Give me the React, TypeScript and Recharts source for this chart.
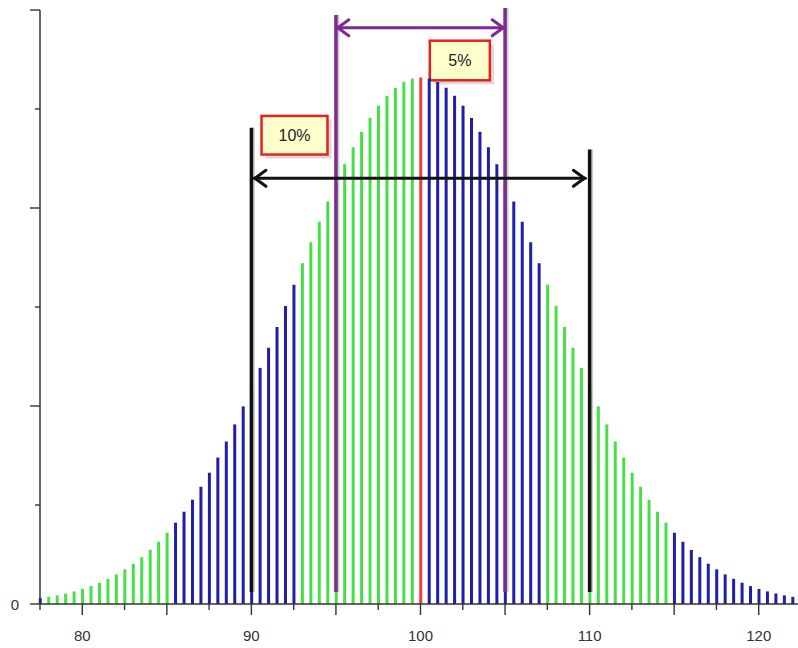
import { ComposedChart, Bar, Cell, XAxis, YAxis, ReferenceLine, ReferenceArea } from 'recharts'

// x positions of the stick bars (step 0.5)
const xValues = [
  77.5, 78, 78.5, 79, 79.5, 80, 80.5, 81, 81.5, 82, 82.5, 83, 83.5, 84, 84.5, 85,
  85.5, 86, 86.5, 87, 87.5, 88, 88.5, 89, 89.5, 90, 90.5, 91, 91.5, 92, 92.5,
  93, 93.5, 94, 94.5, 95, 95.5, 96, 96.5, 97, 97.5, 98, 98.5, 99, 99.5, 100,
  100.5, 101, 101.5, 102, 102.5, 103, 103.5, 104, 104.5, 105, 105.5, 106, 106.5, 107,
  107.5, 108, 108.5, 109, 109.5, 110, 110.5, 111, 111.5, 112, 112.5, 113, 113.5, 114, 114.5,
  115, 115.5, 116, 116.5, 117, 117.5, 118, 118.5, 119, 119.5, 120, 120.5, 121, 121.5, 122, 122.5,
]

// bar heights
const density = [
  0.00059, 0.00072, 0.00087, 0.00106, 0.00127, 0.00152, 0.00181, 0.00215, 0.00254, 0.00299,
  0.0035, 0.00407, 0.00473, 0.00546, 0.00629, 0.0072, 0.00821, 0.00932, 0.01053, 0.01184,
  0.01326, 0.01479, 0.01642, 0.01814, 0.01996, 0.02187, 0.02385, 0.02589, 0.02798, 0.03011,
  0.03226, 0.03441, 0.03654, 0.03862, 0.04065, 0.04259, 0.04443, 0.04614, 0.0477, 0.0491,
  0.05032, 0.05133, 0.05214, 0.05272, 0.05307, 0.05319,
  0.05307, 0.05272, 0.05214, 0.05133, 0.05032, 0.0491, 0.0477, 0.04614, 0.04443, 0.04259,
  0.04065, 0.03862, 0.03654, 0.03441, 0.03226, 0.03011, 0.02798, 0.02589, 0.02385, 0.02187,
  0.01996, 0.01814, 0.01642, 0.01479, 0.01326, 0.01184, 0.01053, 0.00932, 0.00821, 0.0072,
  0.00629, 0.00546, 0.00473, 0.00407, 0.0035, 0.00299, 0.00254, 0.00215, 0.00181, 0.00152,
  0.00127, 0.00106, 0.00087, 0.00072, 0.00059,
]

const GREEN = '#46E046'
const BLUE = '#1E1EA6'
const RED = '#F03C3C'
const PURPLE = '#7E2A90'

const colorBands = [
  { from: 77.5, to: 77.5, color: BLUE },
  { from: 78, to: 85, color: GREEN },
  { from: 85.5, to: 92.5, color: BLUE },
  { from: 93, to: 99.5, color: GREEN },
  { from: 100, to: 100, color: RED },
  { from: 100.5, to: 107, color: BLUE },
  { from: 107.5, to: 114.5, color: GREEN },
  { from: 115, to: 122.5, color: BLUE },
]

const xTicks = [77.5, 80, 82.5, 85, 87.5, 90, 92.5, 95, 97.5, 100, 102.5, 105, 107.5, 110, 112.5, 115, 117.5, 120, 122.5]
const xLabels = [80, 90, 100, 110, 120]
const yTicks = [0, 0.01, 0.02, 0.03, 0.04, 0.05, 0.06]
const yMajor = [0, 0.02, 0.04, 0.06]

const data = xValues.map((x, i) => ({ x, p: density[i] }))

const colorFor = (x: number) => {
  const band = colorBands.find(b => x >= b.from && x <= b.to)
  return band ? band.color : GREEN
}

const FONT = '"Liberation Sans", Arial, sans-serif'

const XTick = (props: any) => {
  const { x, y, payload } = props
  const v = payload.value
  const major = v % 5 === 0
  return (
    <g>
      <line x1={x} x2={x} y1={y} y2={y + (major ? 11 : 6)} stroke="#333" strokeWidth={1.4} />
      {xLabels.includes(v) && (
        <text x={x} y={y + 37} textAnchor="middle" fontSize={15} fill="#333" fontFamily={FONT}>
          {v}
        </text>
      )}
    </g>
  )
}

const YTick = (props: any) => {
  const { x, y, payload } = props
  const v = payload.value
  const major = yMajor.includes(v)
  return (
    <g>
      <line x1={x - (major ? 10 : 5)} x2={x} y1={y} y2={y} stroke="#333" strokeWidth={1.4} />
      {v === 0 && (
        <text x={x - 21} y={y + 6} textAnchor="end" fontSize={15} fill="#333" fontFamily={FONT}>
          0
        </text>
      )}
    </g>
  )
}

const thickLine = (color: string) => (props: any) => {
  const { x1, y1, x2, y2 } = props
  return (
    <g>
      <line x1={x1 + 2} y1={y1} x2={x2 + 2} y2={y2} stroke="#999" strokeOpacity={0.5} strokeWidth={3} />
      <line x1={x1} y1={y1} x2={x2} y2={y2} stroke={color} strokeWidth={3.5} />
    </g>
  )
}

const doubleArrow = (color: string) => (props: any) => {
  const { x1, y1, x2, y2 } = props
  return (
    <g fill="none" stroke={color} strokeWidth={3} strokeLinecap="round" strokeLinejoin="round">
      <line x1={x1} y1={y1} x2={x2} y2={y2} />
      <polyline points={`${x1 + 12},${y1 - 8} ${x1 + 1},${y1} ${x1 + 12},${y1 + 8}`} />
      <polyline points={`${x2 - 12},${y2 - 8} ${x2 - 1},${y2} ${x2 - 12},${y2 + 8}`} />
    </g>
  )
}

const labelBox = (text: string) => (props: any) => {
  const { x, y, width, height } = props
  return (
    <g>
      <rect x={x + 4} y={y + 4} width={width} height={height} fill="#000" fillOpacity={0.15} />
      <rect x={x} y={y} width={width} height={height} fill="#FFFFCC" stroke="#E8201E" strokeWidth={2.5} />
      <text x={x + width / 2} y={y + height / 2 + 6} textAnchor="middle" fontSize={16} fill="#222" fontFamily={FONT}>
        {text}
      </text>
    </g>
  )
}

export default function App() {
  return (
    <div style={{ position: 'absolute', left: 0, top: 0, width: 798, height: 648, overflow: 'hidden', background: '#fff' }}>
      <ComposedChart width={810} height={648} data={data} margin={{ top: 10, right: 9, bottom: 0, left: 0 }}>
        <XAxis
          type="number"
          dataKey="x"
          domain={[77.5, 122.5]}
          ticks={xTicks}
          tick={<XTick />}
          tickLine={false}
          tickSize={0}
          tickMargin={0}
          height={44}
          axisLine={{ stroke: '#333', strokeWidth: 1.5 }}
          interval={0}
        />
        <YAxis
          type="number"
          domain={[0, 0.06]}
          ticks={yTicks}
          tick={<YTick />}
          tickLine={false}
          tickSize={0}
          tickMargin={0}
          width={40}
          axisLine={{ stroke: '#333', strokeWidth: 1.5 }}
          interval={0}
        />
        <Bar dataKey="p" barSize={3} isAnimationActive={false}>
          {data.map((d, i) => (
            <Cell key={i} fill={colorFor(d.x)} />
          ))}
        </Bar>
        <ReferenceLine segment={[{ x: 90, y: 0.0012 }, { x: 90, y: 0.0481 }]} shape={thickLine('#111')} ifOverflow="visible" />
        <ReferenceLine segment={[{ x: 110, y: 0.0012 }, { x: 110, y: 0.0459 }]} shape={thickLine('#111')} ifOverflow="visible" />
        <ReferenceLine segment={[{ x: 95, y: 0.0012 }, { x: 95, y: 0.0595 }]} shape={thickLine(PURPLE)} ifOverflow="visible" />
        <ReferenceLine segment={[{ x: 105, y: 0.0012 }, { x: 105, y: 0.0602 }]} shape={thickLine(PURPLE)} ifOverflow="visible" />
        <ReferenceLine segment={[{ x: 90.15, y: 0.043 }, { x: 109.75, y: 0.043 }]} shape={doubleArrow('#111')} ifOverflow="visible" />
        <ReferenceLine segment={[{ x: 95.05, y: 0.0582 }, { x: 104.95, y: 0.0582 }]} shape={doubleArrow(PURPLE)} ifOverflow="visible" />
        <ReferenceArea x1={90.6} x2={94.5} y1={0.0454} y2={0.0493} shape={labelBox('10%')} ifOverflow="visible" />
        <ReferenceArea x1={100.55} x2={104.1} y1={0.0529} y2={0.0569} shape={labelBox('5%')} ifOverflow="visible" />
      </ComposedChart>
    </div>
  )
}
